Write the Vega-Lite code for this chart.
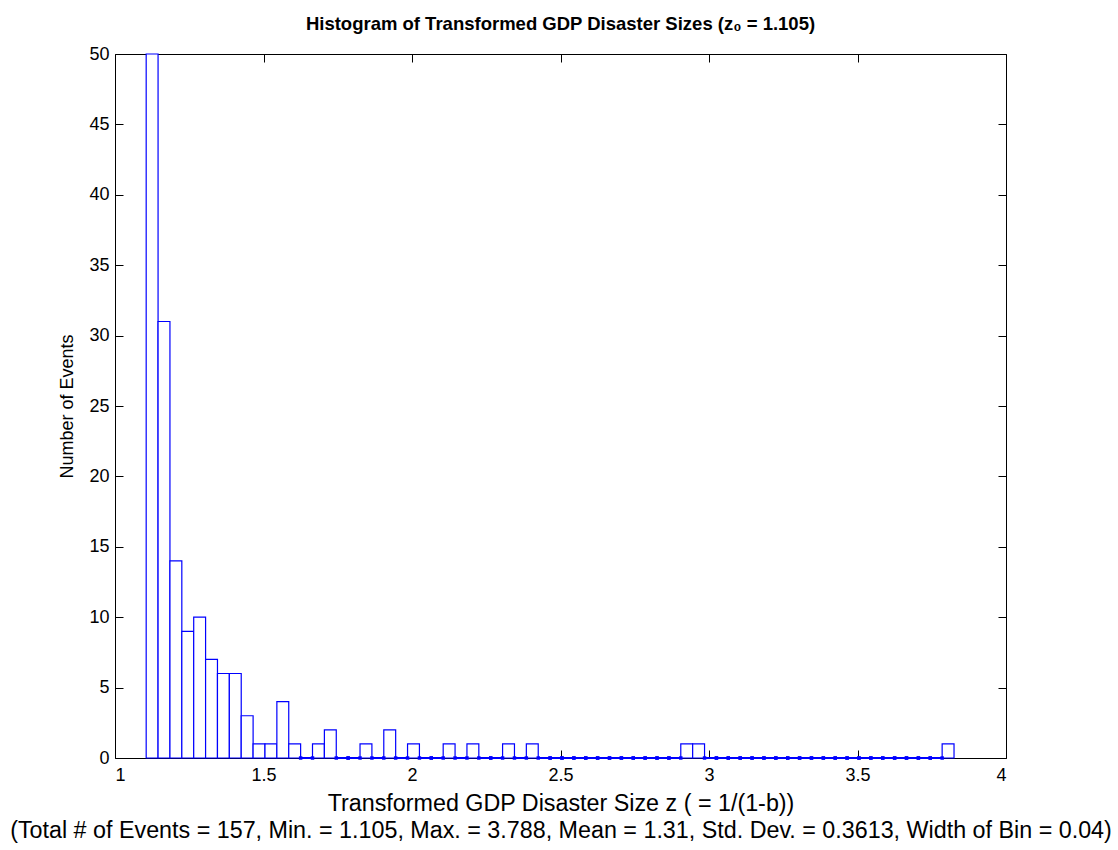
{
  "$schema": "https://vega.github.io/schema/vega-lite/v6.json",
  "width": 891,
  "height": 704,
  "autosize": {"type": "none"},
  "padding": {"left": 115, "top": 54, "right": 112, "bottom": 92},
  "background": "white",
  "config": {
    "font": "Liberation Sans",
    "view": {"stroke": "black", "strokeWidth": 1},
    "axis": {"grid": false, "domain": false, "tickColor": "black", "labelColor": "black", "titleColor": "black", "labelFont": "Liberation Sans", "titleFont": "Liberation Sans", "labelFontSize": 18, "titleFontWeight": "normal", "tickSize": 8, "offset": -8}
  },
  "title": {"text": "Histogram of Transformed GDP Disaster Sizes (z₀ = 1.105)", "fontSize": 18.5, "fontWeight": "bold", "font": "Liberation Sans", "color": "black", "anchor": "middle", "offset": 12},
  "data": {"values": [
    {"start": 1.105, "end": 1.145, "count": 50},
    {"start": 1.145, "end": 1.185, "count": 31},
    {"start": 1.185, "end": 1.225, "count": 14},
    {"start": 1.225, "end": 1.265, "count": 9},
    {"start": 1.265, "end": 1.305, "count": 10},
    {"start": 1.305, "end": 1.345, "count": 7},
    {"start": 1.345, "end": 1.385, "count": 6},
    {"start": 1.385, "end": 1.425, "count": 6},
    {"start": 1.425, "end": 1.465, "count": 3},
    {"start": 1.465, "end": 1.505, "count": 1},
    {"start": 1.505, "end": 1.545, "count": 1},
    {"start": 1.545, "end": 1.585, "count": 4},
    {"start": 1.585, "end": 1.625, "count": 1},
    {"start": 1.625, "end": 1.665, "count": 0},
    {"start": 1.665, "end": 1.705, "count": 1},
    {"start": 1.705, "end": 1.745, "count": 2},
    {"start": 1.745, "end": 1.785, "count": 0},
    {"start": 1.785, "end": 1.825, "count": 0},
    {"start": 1.825, "end": 1.865, "count": 1},
    {"start": 1.865, "end": 1.905, "count": 0},
    {"start": 1.905, "end": 1.945, "count": 2},
    {"start": 1.945, "end": 1.985, "count": 0},
    {"start": 1.985, "end": 2.025, "count": 1},
    {"start": 2.025, "end": 2.065, "count": 0},
    {"start": 2.065, "end": 2.105, "count": 0},
    {"start": 2.105, "end": 2.145, "count": 1},
    {"start": 2.145, "end": 2.185, "count": 0},
    {"start": 2.185, "end": 2.225, "count": 1},
    {"start": 2.225, "end": 2.265, "count": 0},
    {"start": 2.265, "end": 2.305, "count": 0},
    {"start": 2.305, "end": 2.345, "count": 1},
    {"start": 2.345, "end": 2.385, "count": 0},
    {"start": 2.385, "end": 2.425, "count": 1},
    {"start": 2.425, "end": 2.465, "count": 0},
    {"start": 2.465, "end": 2.505, "count": 0},
    {"start": 2.505, "end": 2.545, "count": 0},
    {"start": 2.545, "end": 2.585, "count": 0},
    {"start": 2.585, "end": 2.625, "count": 0},
    {"start": 2.625, "end": 2.665, "count": 0},
    {"start": 2.665, "end": 2.705, "count": 0},
    {"start": 2.705, "end": 2.745, "count": 0},
    {"start": 2.745, "end": 2.785, "count": 0},
    {"start": 2.785, "end": 2.825, "count": 0},
    {"start": 2.825, "end": 2.865, "count": 0},
    {"start": 2.865, "end": 2.905, "count": 0},
    {"start": 2.905, "end": 2.945, "count": 1},
    {"start": 2.945, "end": 2.985, "count": 1},
    {"start": 2.985, "end": 3.025, "count": 0},
    {"start": 3.025, "end": 3.065, "count": 0},
    {"start": 3.065, "end": 3.105, "count": 0},
    {"start": 3.105, "end": 3.145, "count": 0},
    {"start": 3.145, "end": 3.185, "count": 0},
    {"start": 3.185, "end": 3.225, "count": 0},
    {"start": 3.225, "end": 3.265, "count": 0},
    {"start": 3.265, "end": 3.305, "count": 0},
    {"start": 3.305, "end": 3.345, "count": 0},
    {"start": 3.345, "end": 3.385, "count": 0},
    {"start": 3.385, "end": 3.425, "count": 0},
    {"start": 3.425, "end": 3.465, "count": 0},
    {"start": 3.465, "end": 3.505, "count": 0},
    {"start": 3.505, "end": 3.545, "count": 0},
    {"start": 3.545, "end": 3.585, "count": 0},
    {"start": 3.585, "end": 3.625, "count": 0},
    {"start": 3.625, "end": 3.665, "count": 0},
    {"start": 3.665, "end": 3.705, "count": 0},
    {"start": 3.705, "end": 3.745, "count": 0},
    {"start": 3.745, "end": 3.785, "count": 0},
    {"start": 3.785, "end": 3.825, "count": 1}
  ]},
  "resolve": {"scale": {"x": "shared", "y": "shared"}, "axis": {"x": "independent", "y": "independent"}},
  "layer": [
    {
      "mark": {"type": "bar", "fill": "white", "stroke": "#0000ff", "strokeWidth": 1.2},
      "encoding": {
        "x": {"field": "start", "type": "quantitative", "scale": {"domain": [1, 4], "nice": false, "zero": false},
              "axis": {"orient": "bottom", "values": [1, 1.5, 2, 2.5, 3, 3.5, 4], "format": "~g", "labelPadding": 8,
                       "title": ["Transformed GDP Disaster Size z ( = 1/(1-b))", "(Total # of Events = 157, Min. = 1.105, Max. = 3.788, Mean = 1.31, Std. Dev. = 0.3613, Width of Bin = 0.04)"],
                       "titleFontSize": 23.3, "titleLineHeight": 27, "titlePadding": 8}},
        "x2": {"field": "end"},
        "y": {"field": "count", "type": "quantitative", "scale": {"domain": [0, 50], "nice": false},
              "axis": {"orient": "left", "values": [0, 5, 10, 15, 20, 25, 30, 35, 40, 45, 50], "labelPadding": 6,
                       "title": "Number of Events", "titleFontSize": 18, "titlePadding": 12}},
        "y2": {"datum": 0}
      }
    },
    {
      "transform": [{"filter": "datum.count == 0"}],
      "mark": {"type": "rule", "color": "#0000ff", "strokeWidth": 2},
      "encoding": {
        "x": {"field": "start", "type": "quantitative", "axis": null},
        "x2": {"field": "end"},
        "y": {"field": "count", "type": "quantitative", "axis": null}
      }
    },
    {
      "transform": [{"filter": "datum.count == 0"}],
      "mark": {"type": "point", "filled": true, "color": "#0000ff", "size": 12, "shape": "square", "opacity": 1},
      "encoding": {
        "x": {"field": "start", "type": "quantitative",
              "axis": {"orient": "top", "values": [1, 1.5, 2, 2.5, 3, 3.5, 4], "labels": false, "title": null}},
        "y": {"field": "count", "type": "quantitative",
              "axis": {"orient": "right", "values": [0, 5, 10, 15, 20, 25, 30, 35, 40, 45, 50], "labels": false, "title": null}}
      }
    },
    {
      "transform": [{"filter": "datum.count == 0"}],
      "mark": {"type": "point", "filled": true, "color": "#0000ff", "size": 12, "shape": "square", "opacity": 1},
      "encoding": {
        "x": {"field": "end", "type": "quantitative", "axis": null},
        "y": {"field": "count", "type": "quantitative", "axis": null}
      }
    }
  ]
}
